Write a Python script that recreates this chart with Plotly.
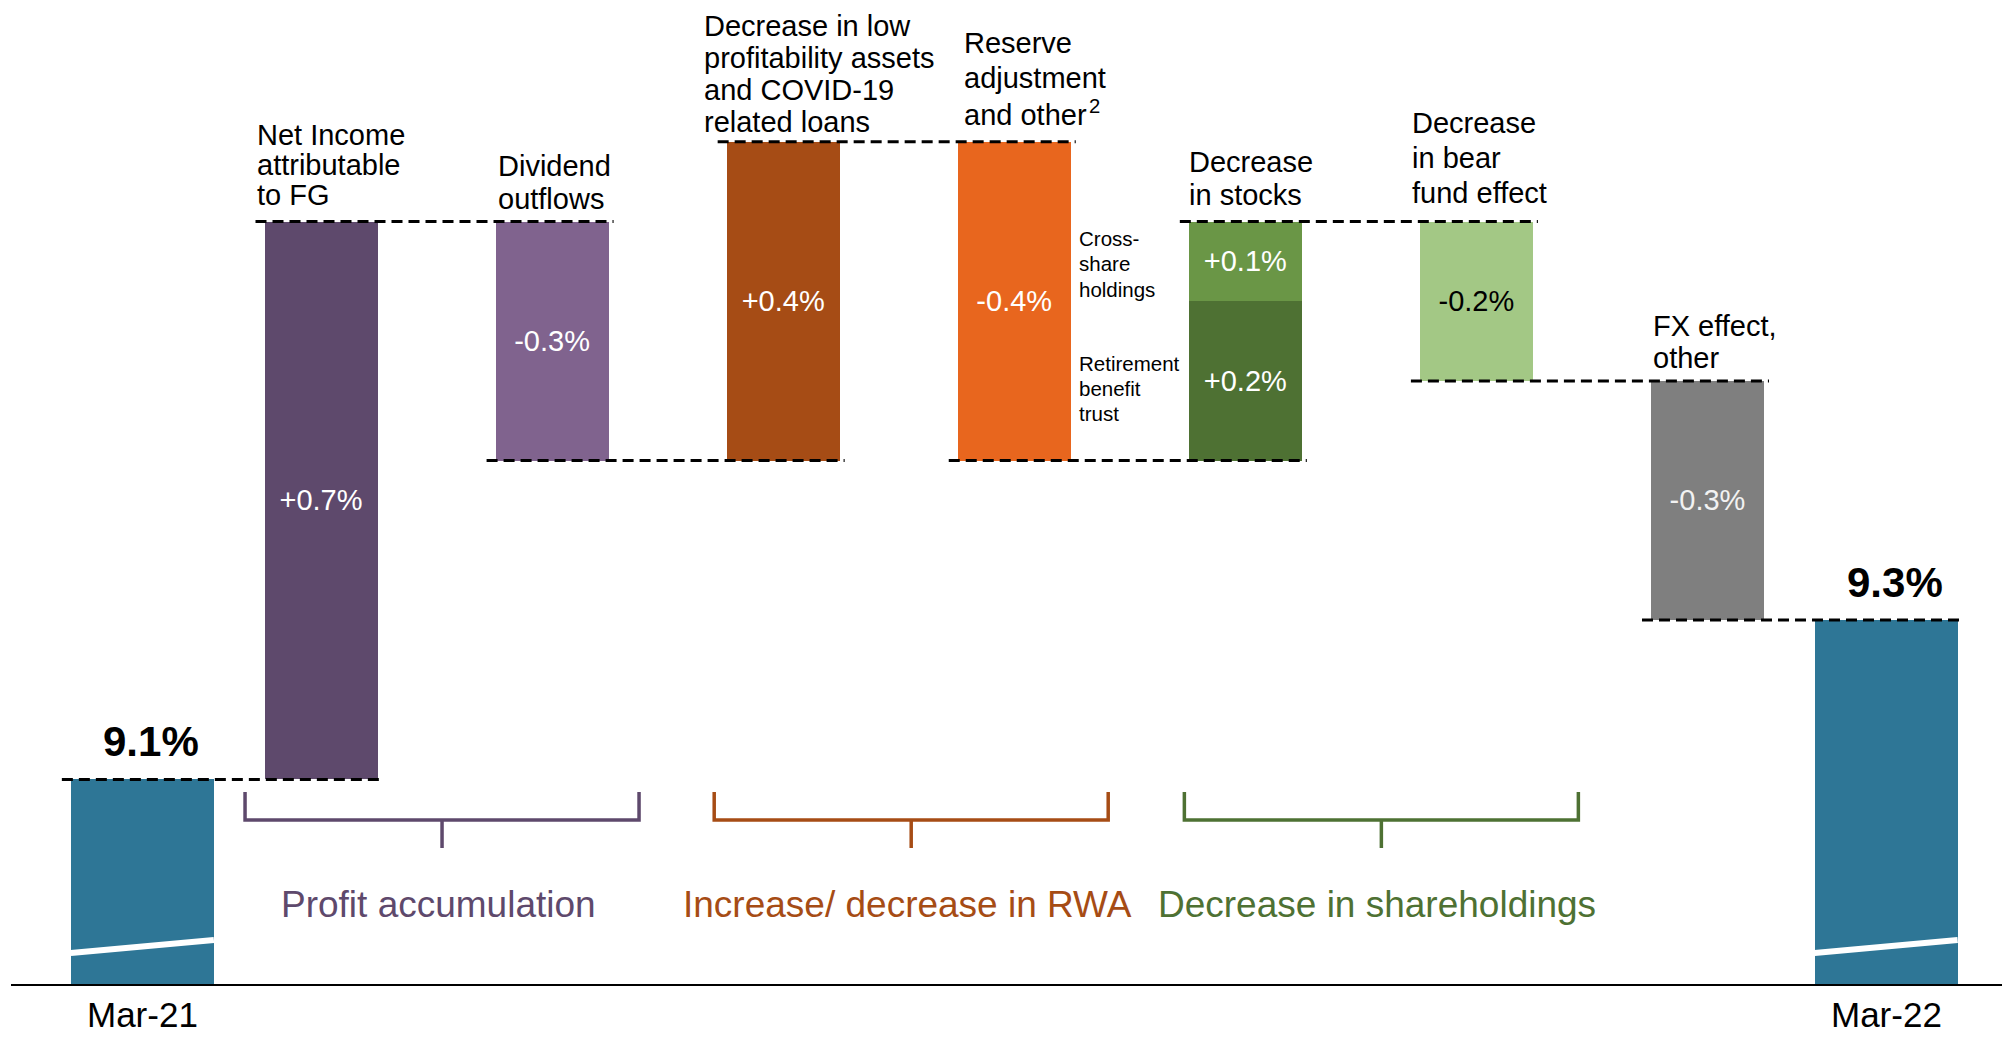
import plotly.graph_objects as go

# ---------------- data ----------------
start_label = "Mar-21"
end_label = "Mar-22"
start_value = 9.1
end_value = 9.3

step_names = [
    "Net Income attributable to FG",
    "Dividend outflows",
    "Decrease in low profitability assets and COVID-19 related loans",
    "Reserve adjustment and other 2",
    "Decrease in stocks",
    "Decrease in bear fund effect",
    "FX effect, other",
]
step_values = [0.7, -0.3, 0.4, -0.4, 0.3, -0.2, -0.3]

stock_index = 4
stock_part_names = ["Retirement benefit trust", "Cross-share holdings"]
stock_part_values = [0.2, 0.1]

group_names = ["Profit accumulation", "Increase/ decrease in RWA", "Decrease in shareholdings"]
group_members = [[0, 1], [2, 3], [4, 5]]

# label text layout (line breaks as in the chart)
step_label_lines = [
    ["Net Income", "attributable", "to FG"],
    ["Dividend", "outflows"],
    ["Decrease in low", "profitability assets", "and COVID-19", "related loans"],
    ["Reserve", "adjustment", "and other\u200a<sup>2</sup>"],
    ["Decrease", "in stocks"],
    ["Decrease", "in bear", "fund effect"],
    ["FX effect,", "other"],
]
stock_part_label_lines = [["Retirement", "benefit", "trust"], ["Cross-", "share", "holdings"]]

# ---------------- style ----------------
FONT = "Liberation Sans, Arial, Helvetica, sans-serif"
C_TEAL = "#2E7696"
step_colors = ["#5E496C", "#80638E", "#A64C15", "#E8661E", None, "#A3C885", "#7F7F7F"]
step_text_colors = ["white", "white", "white", "white", None, "black", "#F2F2F2"]
stock_part_colors = ["#4E7133", "#6A9646"]
group_colors = ["#5E496C", "#A64C15", "#4E7133"]

W, H = 2002, 1037
M_B = 52
PLOT_H = H - M_B
X_MIN, X_MAX = -0.3891, 8.2745
Y_MIN, Y_MAX = 8.842, 10.078
STEP_W = 0.489
END_W = 0.619
END_GAP = 0.773
FS = 29          # label font size
FS_SMALL = 20.5
ASC = 0.3465     # center of text box above baseline (em)

ppx = W / (X_MAX - X_MIN)
ppy = PLOT_H / (Y_MAX - Y_MIN)


def dx(p):
    return p / ppx


def dy(p):
    return p / ppy


def y_px(p):
    return Y_MAX - p / ppy


# per-label placement (pixels)
label_dx = [-9, 1, -24, 5, -1, -9, 1]
label_sp = [30, 33, 32, 35, 33, 35, 32]
label_gap = [17, 13, 10, 19, 17, 19, 13]
small_first = [69, 24]
small_sp = [25, 25.5]
bracket_shift = [5.5, 12.5, 20.5]

# ---------------- derived ----------------
x_steps = [1 + i for i in range(len(step_values))]
x_start = 1 - END_GAP
x_end = x_steps[-1] + END_GAP

levels = [start_value]
for v in step_values:
    levels.append(round(levels[-1] + v, 6))

fig = go.Figure()

# step bars
bx, bbase, by, bcol, btxt, btcol = [], [], [], [], [], []
for i, v in enumerate(step_values):
    if i == stock_index:
        base = levels[i]
        for j, pv in enumerate(stock_part_values):
            bx.append(x_steps[i]); bbase.append(base); by.append(pv)
            bcol.append(stock_part_colors[j]); btxt.append(f"{pv:+.1f}%"); btcol.append("white")
            base = round(base + pv, 6)
    else:
        bx.append(x_steps[i]); bbase.append(levels[i]); by.append(v)
        bcol.append(step_colors[i]); btxt.append(f"{v:+.1f}%"); btcol.append(step_text_colors[i])

fig.add_trace(go.Bar(
    x=bx, y=by, base=bbase, width=STEP_W,
    marker=dict(color=bcol, line=dict(width=0)),
    text=btxt, textposition="inside", insidetextanchor="middle", textangle=0,
    textfont=dict(family=FONT, size=FS, color=btcol),
    constraintext="none", hoverinfo="skip", showlegend=False,
))

# start / end bars (broken axis: drawn from the axis floor)
fig.add_trace(go.Bar(
    x=[x_start, x_end], y=[start_value - Y_MIN, end_value - Y_MIN], base=[Y_MIN, Y_MIN],
    width=END_W, marker=dict(color=C_TEAL, line=dict(width=0)),
    textposition="none", hoverinfo="skip", showlegend=False,
))

shapes = []
annotations = []

# axis break marks
for xc in (x_start, x_end):
    shapes.append(dict(type="line", xref="x", yref="y",
                       x0=xc - END_W / 2, x1=xc + END_W / 2,
                       y0=Y_MIN + dy(32), y1=Y_MIN + dy(45),
                       line=dict(color="white", width=6), layer="above"))

# baseline
shapes.append(dict(type="line", xref="x", yref="paper", x0=X_MIN + dx(11), x1=X_MAX,
                   y0=0, y1=0, line=dict(color="black", width=2), layer="above"))

# dashed connectors
seq_x = [x_start] + x_steps + [x_end]
seq_w = [END_W] + [STEP_W] * len(x_steps) + [END_W]
for k in range(len(seq_x) - 1):
    lvl = levels[k]
    shapes.append(dict(type="line", xref="x", yref="y",
                       x0=seq_x[k] - seq_w[k] / 2 - dx(9),
                       x1=seq_x[k + 1] + seq_w[k + 1] / 2 + dx(5),
                       y0=lvl, y1=lvl,
                       line=dict(color="black", width=3, dash="11px,6px"), layer="above"))

# category labels above bars
for i, lines in enumerate(step_label_lines):
    top = max(levels[i], levels[i + 1])
    n = len(lines)
    for k, t in enumerate(lines):
        annotations.append(dict(
            x=x_steps[i] - STEP_W / 2, y=top, xref="x", yref="y",
            xanchor="left", yanchor="middle", showarrow=False, borderpad=0,
            xshift=label_dx[i],
            yshift=label_gap[i] + (n - 1 - k) * label_sp[i] + ASC * FS,
            text=t, align="left", font=dict(family=FONT, size=FS, color="black")))

# stock part labels
seg_top = levels[stock_index]
for j, lines in enumerate(stock_part_label_lines):
    seg_top = round(seg_top + stock_part_values[j], 6)
    for k, t in enumerate(lines):
        annotations.append(dict(
            x=x_steps[stock_index] - STEP_W / 2, y=seg_top, xref="x", yref="y",
            xanchor="left", yanchor="middle", showarrow=False, borderpad=0,
            xshift=-111,
            yshift=-(small_first[j] + k * small_sp[j] - ASC * FS_SMALL),
            text=t, align="left", font=dict(family=FONT, size=FS_SMALL, color="black")))

# start / end value labels
for xc, val in ((x_start, start_value), (x_end, end_value)):
    annotations.append(dict(
        x=xc, y=val, xref="x", yref="y", xanchor="center", yanchor="middle",
        showarrow=False, borderpad=0, xshift=9, yshift=37.5,
        text=f"<b>{val:.1f}%</b>", font=dict(family=FONT, size=42, color="black")))

# period labels
for xc, lab in ((x_start, start_label), (x_end, end_label)):
    annotations.append(dict(
        x=xc, y=0, xref="x", yref="paper", xanchor="center", yanchor="top",
        showarrow=False, borderpad=0, yshift=-9,
        text=lab, font=dict(family=FONT, size=35, color="black")))

# group brackets and labels
for g, (a, b) in enumerate(group_members):
    xc = (x_steps[a] + x_steps[b]) / 2 + dx(bracket_shift[g])
    hw = dx(197)
    yt, ym, yb = y_px(792), y_px(820), y_px(848)
    path = (f"M {xc - hw},{yt} L {xc - hw},{ym} L {xc + hw},{ym} L {xc + hw},{yt} "
            f"M {xc},{ym} L {xc},{yb}")
    shapes.append(dict(type="path", xref="x", yref="y", path=path,
                       line=dict(color=group_colors[g], width=3.5), layer="above"))
    annotations.append(dict(
        x=xc - dx(4), y=y_px(904), xref="x", yref="y", xanchor="center", yanchor="middle",
        showarrow=False, borderpad=0, text=group_names[g],
        font=dict(family=FONT, size=37, color=group_colors[g])))

fig.update_layout(
    width=W, height=H, autosize=False,
    margin=dict(l=0, r=0, t=0, b=M_B, pad=0),
    paper_bgcolor="white", plot_bgcolor="white",
    barmode="overlay", bargap=0,
    xaxis=dict(range=[X_MIN, X_MAX], visible=False, fixedrange=True),
    yaxis=dict(range=[Y_MIN, Y_MAX], visible=False, fixedrange=True),
    shapes=shapes, annotations=annotations,
    hovermode=False, showlegend=False,
    font=dict(family=FONT),
)

fig.write_html(
    "out.html",
    config={"displayModeBar": False, "staticPlot": True},
    post_script="document.body.style.margin='0';document.documentElement.style.overflow='hidden';document.body.style.overflow='hidden';",
)
